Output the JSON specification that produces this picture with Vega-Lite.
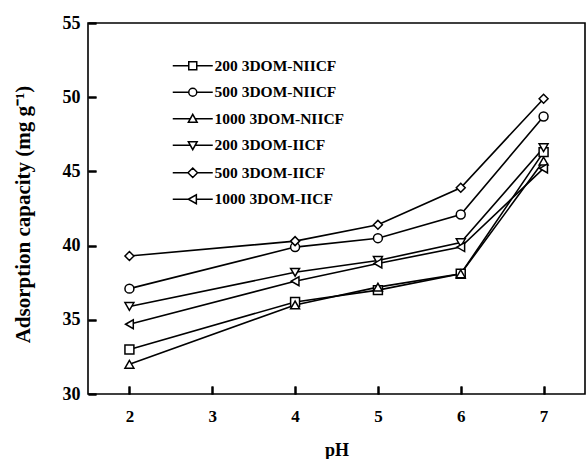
{
  "$schema": "https://vega.github.io/schema/vega-lite/v6.json",
  "autosize": {"type": "none"},
  "padding": {"left": 88, "top": 23, "right": 2, "bottom": 65},
  "width": 497,
  "height": 371,
  "background": "white",
  "config": {
    "font": "Liberation Serif",
    "view": {"stroke": "black", "strokeWidth": 1.6},
    "axis": {
      "grid": false,
      "domain": false,
      "labelFont": "Liberation Serif",
      "labelFontWeight": "bold",
      "labelColor": "black",
      "titleFont": "Liberation Serif",
      "titleFontWeight": "bold",
      "titleColor": "black"
    }
  },
  "data": {
    "values": [
      {"series": "200 3DOM-NIICF", "pH": 2, "value": 33.0},
      {"series": "200 3DOM-NIICF", "pH": 4, "value": 36.2},
      {"series": "200 3DOM-NIICF", "pH": 5, "value": 37.0},
      {"series": "200 3DOM-NIICF", "pH": 6, "value": 38.1},
      {"series": "200 3DOM-NIICF", "pH": 7, "value": 46.3},
      {"series": "500 3DOM-NIICF", "pH": 2, "value": 37.1},
      {"series": "500 3DOM-NIICF", "pH": 4, "value": 39.9},
      {"series": "500 3DOM-NIICF", "pH": 5, "value": 40.5},
      {"series": "500 3DOM-NIICF", "pH": 6, "value": 42.1},
      {"series": "500 3DOM-NIICF", "pH": 7, "value": 48.7},
      {"series": "1000 3DOM-NIICF", "pH": 2, "value": 32.0},
      {"series": "1000 3DOM-NIICF", "pH": 4, "value": 36.0},
      {"series": "1000 3DOM-NIICF", "pH": 5, "value": 37.2},
      {"series": "1000 3DOM-NIICF", "pH": 6, "value": 38.1},
      {"series": "1000 3DOM-NIICF", "pH": 7, "value": 45.7},
      {"series": "200 3DOM-IICF", "pH": 2, "value": 35.9},
      {"series": "200 3DOM-IICF", "pH": 4, "value": 38.2},
      {"series": "200 3DOM-IICF", "pH": 5, "value": 39.0},
      {"series": "200 3DOM-IICF", "pH": 6, "value": 40.2},
      {"series": "200 3DOM-IICF", "pH": 7, "value": 46.6},
      {"series": "500 3DOM-IICF", "pH": 2, "value": 39.3},
      {"series": "500 3DOM-IICF", "pH": 4, "value": 40.3},
      {"series": "500 3DOM-IICF", "pH": 5, "value": 41.4},
      {"series": "500 3DOM-IICF", "pH": 6, "value": 43.9},
      {"series": "500 3DOM-IICF", "pH": 7, "value": 49.9},
      {"series": "1000 3DOM-IICF", "pH": 2, "value": 34.7},
      {"series": "1000 3DOM-IICF", "pH": 4, "value": 37.6},
      {"series": "1000 3DOM-IICF", "pH": 5, "value": 38.8},
      {"series": "1000 3DOM-IICF", "pH": 6, "value": 39.9},
      {"series": "1000 3DOM-IICF", "pH": 7, "value": 45.2}
    ]
  },
  "layer": [
    {
      "mark": {"type": "line", "color": "black", "strokeWidth": 1.6},
      "encoding": {
        "x": {
          "field": "pH", "type": "quantitative",
          "scale": {"domain": [1.5, 7.5], "nice": false, "zero": false},
          "axis": {"orient": "bottom", "values": [2, 3, 4, 5, 6, 7], "title": "pH", "offset": -8, "ticks": true, "tickColor": "black", "tickSize": 8, "tickWidth": 2, "labelFontSize": 17, "titleFontSize": 18, "labelPadding": 14, "titlePadding": 17, "zindex": 2}
        },
        "y": {
          "field": "value", "type": "quantitative",
          "scale": {"domain": [30, 55], "nice": false, "zero": false},
          "axis": {"orient": "left", "values": [30, 35, 40, 45, 50, 55], "title": "Adsorption capacity (mg g⁻¹)", "offset": -8, "ticks": true, "tickColor": "black", "tickSize": 8, "tickWidth": 2, "labelFontSize": 18, "titleFontSize": 21, "labelPadding": 8, "titlePadding": 29, "titleY": 191, "zindex": 2}
        },
        "detail": {"field": "series"}
      }
    },
    {
      "mark": {"type": "point", "filled": true, "fill": "white", "stroke": "black", "strokeWidth": 1.5, "size": 80, "opacity": 1},
      "encoding": {
        "x": {
          "field": "pH", "type": "quantitative",
          "axis": {"orient": "top", "values": [2, 3, 4, 5, 6, 7], "title": null, "labels": false, "domain": false, "ticks": true, "tickColor": "black", "tickSize": 8, "tickWidth": 2, "offset": -371, "zindex": 2}
        },
        "y": {
          "field": "value", "type": "quantitative",
          "axis": {"orient": "right", "values": [30, 35, 40, 45, 50, 55], "title": null, "labels": false, "domain": false, "ticks": true, "tickColor": "black", "tickSize": 8, "tickWidth": 2, "offset": -497, "zindex": 2}
        },
        "shape": {
          "field": "series", "type": "nominal",
          "scale": {
            "domain": ["200 3DOM-NIICF", "500 3DOM-NIICF", "1000 3DOM-NIICF", "200 3DOM-IICF", "500 3DOM-IICF", "1000 3DOM-IICF"],
            "range": ["square", "circle", "triangle-up", "triangle-down", "diamond", "triangle-left"]
          },
          "legend": null
        }
      }
    },
    {
      "mark": {"type": "point", "filled": true, "fill": "white", "stroke": "black", "strokeWidth": 1.5, "size": 64, "opacity": 0},
      "encoding": {
        "x": {"field": "pH", "type": "quantitative", "axis": null},
        "y": {"field": "value", "type": "quantitative", "axis": null},
        "shape": {
          "field": "series", "type": "nominal",
          "scale": {
            "domain": ["200 3DOM-NIICF", "500 3DOM-NIICF", "1000 3DOM-NIICF", "200 3DOM-IICF", "500 3DOM-IICF", "1000 3DOM-IICF"],
            "range": [
              "M-5,0H-1M1,0H5M-1,-1H1V1H-1Z",
              "M-5,0H-1M1,0H5M1,0A1,1 0 1,1 -1,0A1,1 0 1,1 1,0Z",
              "M-5,0H-0.55M0.55,0H5M0,-1.1L1.1,0.9L-1.1,0.9Z",
              "M-5,0H-0.55M0.55,0H5M0,1.1L1.1,-0.9L-1.1,-0.9Z",
              "M-5,0H-1.2M1.2,0H5M-1.2,0L0,-1.2L1.2,0L0,1.2Z",
              "M-5,0H-1.1M0.9,0H5M-1.1,0L0.9,-1.1L0.9,1.1Z"
            ]
          },
          "legend": {
            "orient": "none",
            "legendX": 97,
            "legendY": 35,
            "title": null,
            "padding": 0,
            "rowPadding": 9.5,
            "labelFont": "Liberation Serif",
            "labelFontWeight": "bold",
            "labelFontSize": 15.5,
            "labelColor": "black",
            "labelOffset": 14,
            "symbolSize": 64,
            "encode": {
              "symbols": {"update": {"opacity": {"value": 1}, "fill": {"value": "white"}, "stroke": {"value": "black"}, "strokeWidth": {"value": 1.5}}}
            }
          }
        }
      }
    }
  ],
  "resolve": {"scale": {"shape": "independent"}, "axis": {"x": "independent", "y": "independent"}}
}
